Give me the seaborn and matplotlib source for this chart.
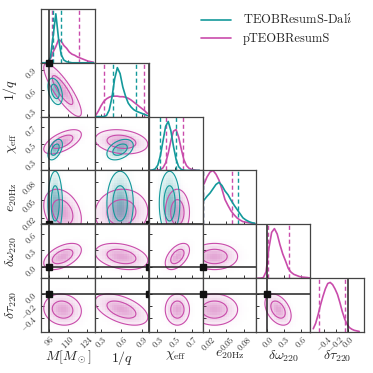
import numpy as np
import pandas as pd
import matplotlib
matplotlib.use("Agg")
import matplotlib.pyplot as plt
from matplotlib.colors import LinearSegmentedColormap, to_rgb
from matplotlib.lines import Line2D
import seaborn as sns

sns.set_theme(style="ticks")
plt.rcParams["font.family"] = ["cmr10", "DejaVu Serif"]
plt.rcParams["mathtext.fontset"] = "cm"
plt.rcParams["axes.unicode_minus"] = False
plt.rcParams["axes.formatter.use_mathtext"] = True

# parameters, plot ranges and ticks
labels = [r"$M[M_\odot]$", r"$1/q$", r"$\chi_{\rm eff}$", r"$e_{20{\rm Hz}}$",
          r"$\delta\omega_{220}$", r"$\delta\tau_{220}$"]
ranges = [(90, 130), (0.21, 1.0), (0.2, 0.82), (0.01, 0.1), (-0.2, 0.77), (-0.63, 0.26)]
ticks = [[96, 110, 124], [0.3, 0.6, 0.9], [0.3, 0.5, 0.7], [0.02, 0.05, 0.08],
         [0.0, 0.3, 0.6], [-0.4, -0.2, 0.0]]
tick_labels = [["$96$", "$110$", "$124$"], ["$0.3$", "$0.6$", "$0.9$"], ["$0.3$", "$0.5$", "$0.7$"],
               ["$0.02$", "$0.05$", "$0.08$"], ["$0.0$", "$0.3$", "$0.6$"],
               ["$-0.4$", "$-0.2$", "$0.0$"]]
truths = [96.0, 1.0, None, 0.01, 0.0, 0.0]

# 1d histogram bins (start, width) and heights
hist_lo = [90, 0.2, 0.2, 0.01, -0.2, -0.6]
hist_step = [2, 0.04, 0.03, 0.005, 0.05, 0.04]

dali_hist = [
    [0, 0, 0, 0.1, 0.5, 0.91, 0.45, 0.15, 0.05, 0.02, 0.01, 0, 0, 0, 0, 0, 0, 0, 0, 0],
    [0, 0, 0, 0, 0.02, 0.12, 0.35, 0.7, 0.91, 0.8, 0.55, 0.38, 0.25, 0.18, 0.13, 0.1, 0.08, 0.06, 0.04, 0.02],
    [0, 0.01, 0.03, 0.10, 0.28, 0.55, 0.82, 0.91, 0.74, 0.45, 0.21, 0.07, 0.02, 0.005, 0, 0, 0, 0, 0, 0],
    [0.45, 0.52, 0.58, 0.66, 0.74, 0.78, 0.72, 0.62, 0.55, 0.45, 0.36, 0.28, 0.2, 0.12, 0.08, 0.05, 0.03, 0.02],
]
pteob_hist = [
    [0, 0, 0.01, 0.08, 0.2, 0.3, 0.43, 0.4, 0.32, 0.27, 0.2, 0.16, 0.14, 0.11, 0.09, 0.07, 0.05, 0.03, 0.02, 0.01],
    [0.02, 0.1, 0.2, 0.28, 0.33, 0.36, 0.38, 0.38, 0.38, 0.37, 0.37, 0.36, 0.34, 0.31, 0.27, 0.23, 0.19, 0.15, 0.11, 0.06],
    [0, 0, 0, 0.005, 0.015, 0.05, 0.14, 0.32, 0.55, 0.73, 0.76, 0.62, 0.40, 0.20, 0.09, 0.04, 0.02, 0.01, 0, 0],
    [0.75, 0.88, 0.97, 1.0, 0.93, 0.82, 0.65, 0.46, 0.35, 0.25, 0.18, 0.12, 0.08, 0.05, 0.04, 0.03, 0.02, 0.01],
    [0, 0, 0.01, 0.12, 0.55, 0.85, 0.92, 0.82, 0.62, 0.45, 0.32, 0.18, 0.11, 0.07, 0.05, 0.03, 0.02, 0.015, 0.01, 0],
    [0.06, 0.16, 0.32, 0.5, 0.66, 0.8, 0.9, 0.92, 0.88, 0.8, 0.7, 0.55, 0.38, 0.24, 0.14, 0.08, 0.05, 0.03, 0.02, 0.01],
]

# credible interval bounds (dashed lines)
dali_quant = [[98.9, 104.8], [0.47, 0.81], [0.33, 0.51], [0.0102, 0.070]]
pteob_quant = [[97.8, 118.0], [0.35, 0.93], [0.395, 0.59], [0.0101, 0.060], [0.003, 0.38], [-0.48, -0.05]]

# 2d posteriors summarised by mean, width and correlation
dali_mean = [100.5, 0.58, 0.44, 0.045]
dali_std = [2.5, 0.09, 0.055, 0.025]
dali_corr = [[1, -0.4, 0.5, 0.0],
             [-0.4, 1, 0.4, 0.0],
             [0.5, 0.4, 1, 0.0],
             [0.0, 0.0, 0.0, 1]]
pteob_mean = [106.0, 0.60, 0.53, 0.030, 0.19, -0.26]
pteob_std = [6.5, 0.18, 0.065, 0.018, 0.11, 0.12]
pteob_corr = [[1, -0.85, 0.6, -0.3, 0.5, -0.1],
              [-0.85, 1, -0.2, 0.05, -0.3, -0.5],
              [0.6, -0.2, 1, 0.0, 0.5, 0.0],
              [-0.3, 0.05, 0.0, 1, 0.0, 0.0],
              [0.5, -0.3, 0.5, 0.0, 1, -0.4],
              [-0.1, -0.5, 0.0, 0.0, -0.4, 1]]

teal = "#14999b"
pink = "#c94cab"
runs = [
    ("pTEOBResumS", pink, pteob_hist, pteob_quant, pteob_mean, pteob_std, pteob_corr),
    (r"TEOBResumS-Dal$\mathrm{\acute{\imath}}$", teal, dali_hist, dali_quant, dali_mean, dali_std, dali_corr),
]
n = len(labels)


def gauss2d(X, Y, mx, my, sx, sy, rho):
    zx = (X - mx) / sx
    zy = (Y - my) / sy
    return np.exp(-0.5 * (zx**2 - 2 * rho * zx * zy + zy**2) / (1 - rho**2))


fig = plt.figure(figsize=(3.73, 3.73), dpi=100)
axes = fig.subplots(n, n, gridspec_kw=dict(left=0.110, right=0.976, bottom=0.110, top=0.976,
                                           wspace=0, hspace=0))

for i in range(n):
    for j in range(n):
        ax = axes[i, j]
        if j > i:
            ax.set_visible(False)
            continue
        for name, c, hists, quants, mean, std, corr in runs:
            if i >= len(hists):
                continue
            if i == j:
                h = np.array(hists[i])
                edges = hist_lo[i] + hist_step[i] * np.arange(len(h) + 1)
                df = pd.DataFrame({"x": 0.5 * (edges[1:] + edges[:-1]), "w": h})
                sns.histplot(data=df, x="x", weights="w", bins=edges.tolist(), element="poly",
                             fill=False, color=c, linewidth=1.2, ax=ax)
                for q in quants[i]:
                    ax.axvline(q, color=c, ls="--", lw=1.0, dashes=(3, 2))
            else:
                xr, yr = ranges[j], ranges[i]
                xe = np.linspace(xr[0], xr[1], 23)
                ye = np.linspace(yr[0], yr[1], 23)
                X, Y = np.meshgrid(0.5 * (xe[1:] + xe[:-1]), 0.5 * (ye[1:] + ye[:-1]))
                args = (mean[j], mean[i], std[j], std[i], corr[i][j])
                rgb = to_rgb(c)
                cmap = LinearSegmentedColormap.from_list("c", [(*rgb, 0.0), (*rgb, 0.45)])
                df = pd.DataFrame({"x": X.ravel(), "y": Y.ravel(), "w": gauss2d(X, Y, *args).ravel()})
                sns.histplot(data=df, x="x", y="y", weights="w", bins=[xe.tolist(), ye.tolist()],
                             cmap=cmap, thresh=None, ax=ax)
                XF, YF = np.meshgrid(np.linspace(xr[0], xr[1], 160), np.linspace(yr[0], yr[1], 160))
                DF = gauss2d(XF, YF, *args)
                ax.contourf(XF, YF, DF, levels=[0.1, 0.5, 1.1], colors=[(*rgb, 0.05), (*rgb, 0.07)])
                ax.contour(XF, YF, DF, levels=[0.1, 0.5], colors=[c], linewidths=0.8)

        # truth values
        if i == j:
            if truths[i] is not None:
                ax.axvline(truths[i], color="#222222", lw=1.1)
        else:
            if truths[j] is not None:
                ax.axvline(truths[j], color="#222222", lw=1.1)
            if truths[i] is not None:
                ax.axhline(truths[i], color="#222222", lw=1.1)
            if truths[i] is not None and truths[j] is not None:
                ax.plot(truths[j], truths[i], "s", color="#111111", ms=4.5, clip_on=False, zorder=5)

        ax.set_xlim(ranges[j])
        ax.set_xticks(ticks[j])
        if i == j:
            ax.set_ylim(0, 1.0)
            ax.set_yticks([])
        else:
            ax.set_ylim(ranges[i])
            ax.set_yticks(ticks[i])
        ax.set_xlabel("")
        ax.set_ylabel("")
        ax.tick_params(direction="in", length=2.5, width=0.7, labelsize=6, pad=1.5, colors="#333333")
        for s in ax.spines.values():
            s.set_color("#444444")
            s.set_linewidth(0.9)

        if i == n - 1:
            ax.set_xticklabels(tick_labels[j], rotation=45)
            ax.set_xlabel(labels[j], fontsize=10)
            ax.xaxis.set_label_coords(0.5, -0.31)
        else:
            ax.tick_params(labelbottom=False)
        if j == 0 and i > 0:
            ax.set_yticklabels(tick_labels[i], rotation=45)
            ax.set_ylabel(labels[i], fontsize=10)
            ax.yaxis.set_label_coords(-0.4, 0.5)
        else:
            ax.tick_params(labelleft=False)

handles = [Line2D([], [], color=teal, lw=1.2), Line2D([], [], color=pink, lw=1.2)]
fig.legend(handles, [runs[1][0], runs[0][0]], loc="upper left", bbox_to_anchor=(0.51, 0.995),
           frameon=False, fontsize=9, handlelength=2.4, labelspacing=0.45, handletextpad=0.9)

fig.savefig("out.png", dpi=100)
